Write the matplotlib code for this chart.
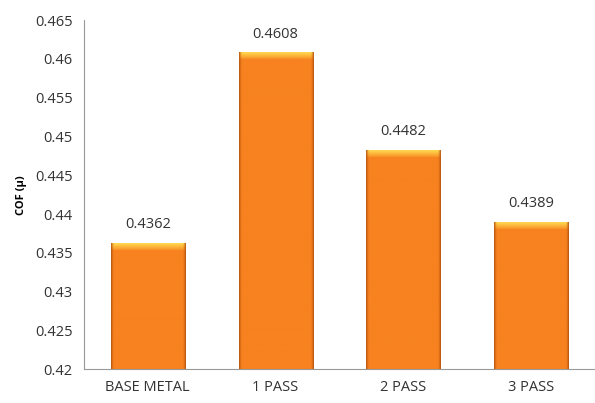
import matplotlib.pyplot as plt
import numpy as np
from matplotlib.colors import to_rgb

categories = ["BASE METAL", "1 PASS", "2 PASS", "3 PASS"]
cof_values = [0.4362, 0.4608, 0.4482, 0.4389]
value_labels = ["0.4362", "0.4608", "0.4482", "0.4389"]
y_ticks = [0.42, 0.425, 0.43, 0.435, 0.44, 0.445, 0.45, 0.455, 0.46, 0.465]

plt.rcParams['font.family'] = ['Open Sans', 'DejaVu Sans']

fig = plt.figure(figsize=(5.95, 4.03), dpi=100)
ax = fig.add_axes([0.141, 0.084, 0.859, 0.866])

ymin, ymax = 0.42, 0.465
x = np.arange(len(categories))
width = 0.58

orange = np.array(to_rgb("#f7821f"))
dark = np.array(to_rgb("#b8540e"))
yellow = np.array(to_rgb("#ffd64c"))

# horizontal profile: flat middle, darker thin sides
u = np.linspace(0, 1, 200)
side = np.clip(1 - np.minimum(u, 1 - u) / 0.04, 0, 1) ** 1.5


def bar_image(n_rows, cap_rows):
    t = np.zeros(n_rows)
    t[:cap_rows] = np.linspace(1, 0, cap_rows) ** 0.8
    img = orange[None, None, :] * (1 - t[:, None, None]) + yellow[None, None, :] * t[:, None, None]
    img = img * (1 - side[None, :, None]) + dark[None, None, :] * side[None, :, None]
    return img


px_per_unit = 0.866 * 403 / (ymax - ymin)
bars = ax.bar(x, cof_values, width=width, bottom=0, color="none", zorder=2)
for b, v in zip(bars, cof_values):
    x0 = b.get_x()
    x1 = x0 + b.get_width()
    n_rows = int((v - ymin) * px_per_unit)
    ax.imshow(bar_image(n_rows, 8), extent=(x0, x1, ymin, v),
              aspect="auto", zorder=2, interpolation="bilinear")

for xi, v, lab in zip(x, cof_values, value_labels):
    ax.annotate(lab, (xi, v), xytext=(0, 8), textcoords="offset points",
                ha="center", va="bottom", fontsize=10.5, color="#333333")

ax.set_xlim(-0.5, 3.5)
ax.set_ylim(ymin, ymax)
ax.set_xticks(x)
ax.set_xticklabels(categories, fontsize=10.5, color="#333333")
ax.set_yticks(y_ticks)
ax.set_yticklabels([f"{t:g}" for t in y_ticks], fontsize=10.5, color="#333333")
ax.tick_params(length=0, pad=8)
ax.set_ylabel("COF (µ)", fontsize=8, fontweight="bold", labelpad=6)

for s in ["top", "right"]:
    ax.spines[s].set_visible(False)
ax.spines["left"].set_color("#999999")
ax.spines["bottom"].set_color("#999999")

fig.savefig("out.png", dpi=100)
